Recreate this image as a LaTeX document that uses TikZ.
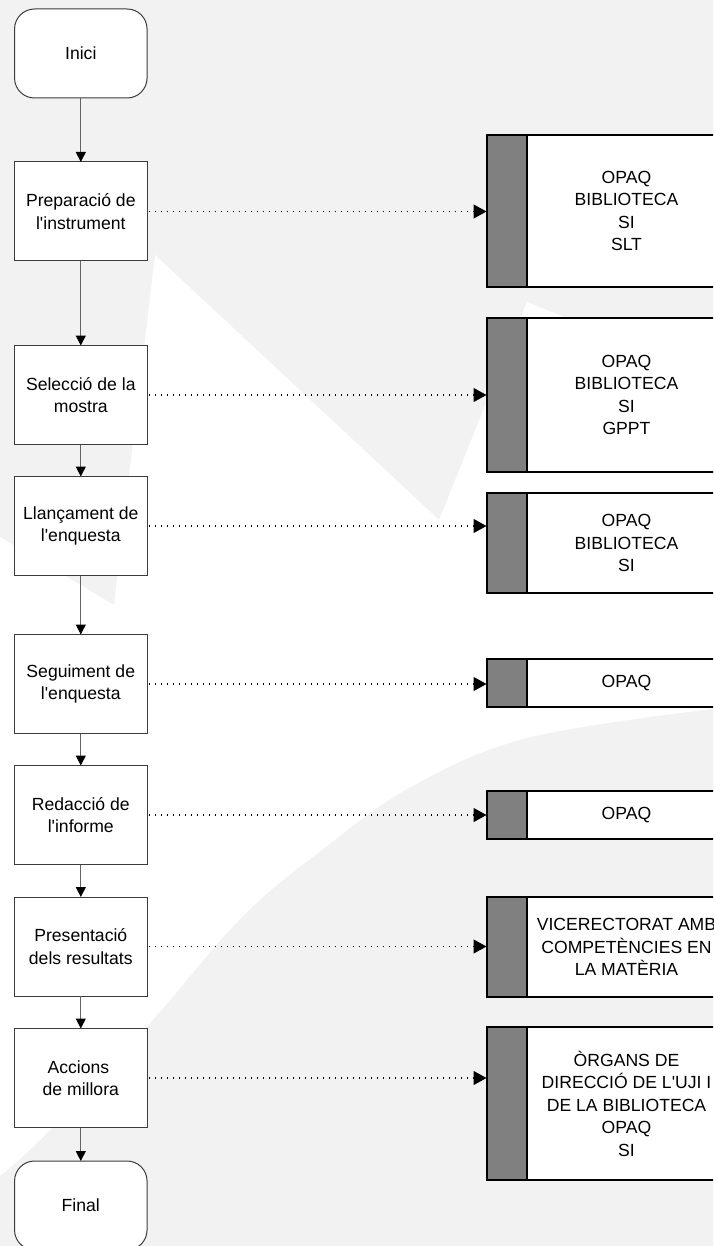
\documentclass[tikz,border=0pt]{standalone}
\usepackage{fontspec}
\newfontfamily\arialf{Liberation Sans}
\usetikzlibrary{arrows.meta}
\definecolor{bggray}{RGB}{242,242,242}
\definecolor{stripgray}{RGB}{128,128,128}
\definecolor{boxline}{RGB}{60,60,60}
\definecolor{flowline}{RGB}{100,100,100}
\begin{document}
\begin{tikzpicture}[x=1pt,y=-1pt,
  every node/.style={font=\arialf\fontsize{17.6}{22.5}\selectfont, align=center, inner sep=0pt, outer sep=0pt},
  stepbox/.style={draw=boxline, line width=1pt, fill=white, minimum width=132.5pt, minimum height=99pt},
  termbox/.style={stepbox, rounded corners=20pt, minimum height=89pt},
  strip/.style={draw=black, line width=2pt, fill=stripgray, minimum width=40.5pt, anchor=west},
  orgbox/.style={draw=black, line width=2pt, fill=white, minimum width=199pt, anchor=west},
  flow/.style={draw=flowline, line width=1pt, -{Triangle[length=10pt,width=10pt,color=black]}},
  dotflow/.style={draw=black, line width=1.2pt, dash pattern=on 1.2pt off 4.8pt, dash phase=4pt, -{Triangle[length=13pt,width=14pt,color=black]}}]
\useasboundingbox (0,0) rectangle (713,1246);
\clip (0,0) rectangle (713,1246);
% background watermark
\fill[bggray] (0,0) rectangle (713,1246);
\fill[white] (155,255) -- (439,520) -- (527,302) -- (713,377) -- (713,709)
  -- plot[smooth, tension=0.6] coordinates {(713,709) (527,738) (409,788) (318,853) (241,918) (150,1023) (45,1135) (0,1176)}
  -- (0,537) -- (114,605) -- cycle;
% process steps
\node[termbox] (inici) at (80.8,53.5) {Inici};
\node[stepbox] (prep) at (80.8,211.5) {Preparació de\\l'instrument};
\node[stepbox] (sel) at (80.8,395) {Selecció de la\\mostra};
\node[stepbox] (llanc) at (80.8,526) {Llançament de\\l'enquesta};
\node[stepbox] (seg) at (80.8,684) {Seguiment de\\l'enquesta};
\node[stepbox] (red) at (80.8,815) {Redacció de\\l'informe};
\node[stepbox] (pres) at (80.8,946.5) {Presentació\\dels resultats};
\node[stepbox] (acc) at (80.8,1078) {Accions\hphantom{ }\\de millora};
\node[termbox] (final) at (80.8,1205.5) {Final};
% responsible units
\node[strip, minimum height=152pt] (s1) at (486.5,211) {};
\node[orgbox, minimum height=152pt] (r1) at (s1.east) {OPAQ\\BIBLIOTECA\\SI\\SLT};
\node[strip, minimum height=154pt] (s2) at (486.5,395) {};
\node[orgbox, minimum height=154pt] (r2) at (s2.east) {OPAQ\\BIBLIOTECA\\SI\\GPPT};
\node[strip, minimum height=100pt] (s3) at (486.5,543) {};
\node[orgbox, minimum height=100pt] (r3) at (s3.east) {OPAQ\\BIBLIOTECA\\SI};
\node[strip, minimum height=48pt] (s4) at (486.5,683) {};
\node[orgbox, minimum height=48pt] (r4) at (s4.east) {OPAQ};
\node[strip, minimum height=48pt] (s5) at (486.5,815) {};
\node[orgbox, minimum height=48pt] (r5) at (s5.east) {OPAQ};
\node[strip, minimum height=100pt] (s6) at (486.5,947) {};
\node[orgbox, minimum height=100pt] (r6) at (s6.east) {VICERECTORAT AMB\\COMPETÈNCIES EN\\LA MATÈRIA};
\node[strip, minimum height=153pt] (s7) at (486.5,1103.5) {};
\node[orgbox, minimum height=153pt] (r7) at (s7.east) {ÒRGANS DE\\DIRECCIÓ DE L'UJI I\\DE LA BIBLIOTECA\\OPAQ\\SI};
% flow
\draw[flow] (inici) -- (prep);
\draw[flow] (prep) -- (sel);
\draw[flow] (sel) -- (llanc);
\draw[flow] (llanc) -- (seg);
\draw[flow] (seg) -- (red);
\draw[flow] (red) -- (pres);
\draw[flow] (pres) -- (acc);
\draw[flow] (acc) -- (final);
% responsibilities
\draw[dotflow] (prep.east) -- (prep.east -| s1.west);
\draw[dotflow] (sel.east) -- (sel.east -| s2.west);
\draw[dotflow] (llanc.east) -- (llanc.east -| s3.west);
\draw[dotflow] (seg.east) -- (seg.east -| s4.west);
\draw[dotflow] (red.east) -- (red.east -| s5.west);
\draw[dotflow] (pres.east) -- (pres.east -| s6.west);
\draw[dotflow] (acc.east) -- (acc.east -| s7.west);
\end{tikzpicture}
\end{document}
